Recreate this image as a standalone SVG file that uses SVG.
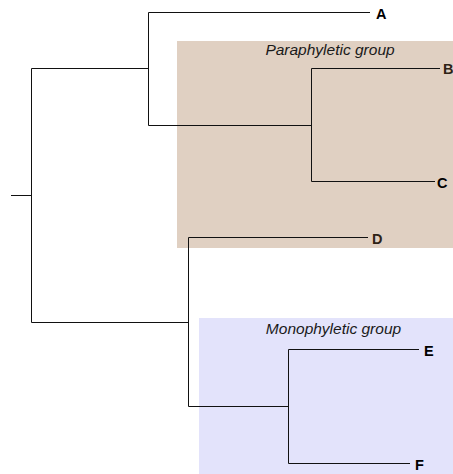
<svg xmlns="http://www.w3.org/2000/svg" width="453" height="474" viewBox="0 0 453 474">
<style>
.edge{fill:none;stroke:#111;stroke-width:1}
.leaf{font-family:"Liberation Sans",Arial,sans-serif;font-weight:bold;font-size:14.5px;fill:#000}
.leafb{font-family:"Liberation Sans",Arial,sans-serif;font-weight:bold;font-size:14.5px;fill:#2e2216}
.grp{font-family:"Liberation Sans",Arial,sans-serif;font-style:italic;font-size:15.5px;fill:#1a1a1a;text-anchor:middle}
</style>
<g id="paraphyletic-group">
<rect x="177" y="41" width="276" height="207" fill="#e0d0c2"/>
<text class="grp" x="330" y="55">Paraphyletic group</text>
</g>
<g id="monophyletic-group">
<rect x="199" y="318" width="254" height="156" fill="#e3e3fb"/>
<text class="grp" x="333.5" y="334">Monophyletic group</text>
</g>
<g id="connectors">
<path class="edge" d="M11 195.5H31.5"/>
<path class="edge" d="M31.5 68.5V322.5"/>
<path class="edge" d="M31.5 68.5H148.5"/>
<path class="edge" d="M148.5 12.5V125.5"/>
<path class="edge" d="M148.5 12.5H370"/>
<path class="edge" d="M148.5 125.5H311.5"/>
<path class="edge" d="M311.5 68.5V181.5"/>
<path class="edge" d="M311.5 68.5H440"/>
<path class="edge" d="M311.5 181.5H435"/>
<path class="edge" d="M31.5 322.5H188.5"/>
<path class="edge" d="M188.5 237.5V406.5"/>
<path class="edge" d="M188.5 237.5H368"/>
<path class="edge" d="M188.5 406.5H288.5"/>
<path class="edge" d="M288.5 349.5V463.5"/>
<path class="edge" d="M288.5 349.5H419"/>
<path class="edge" d="M288.5 463.5H410"/>
</g>
<g id="A"><text class="leaf" x="376" y="19">A</text></g>
<g id="B"><text class="leafb" x="443" y="74">B</text></g>
<g id="C"><text class="leaf" x="437" y="188">C</text></g>
<g id="D"><text class="leafb" x="372" y="244">D</text></g>
<g id="E"><text class="leaf" x="424" y="356">E</text></g>
<g id="F"><text class="leaf" x="415" y="470">F</text></g>
</svg>
